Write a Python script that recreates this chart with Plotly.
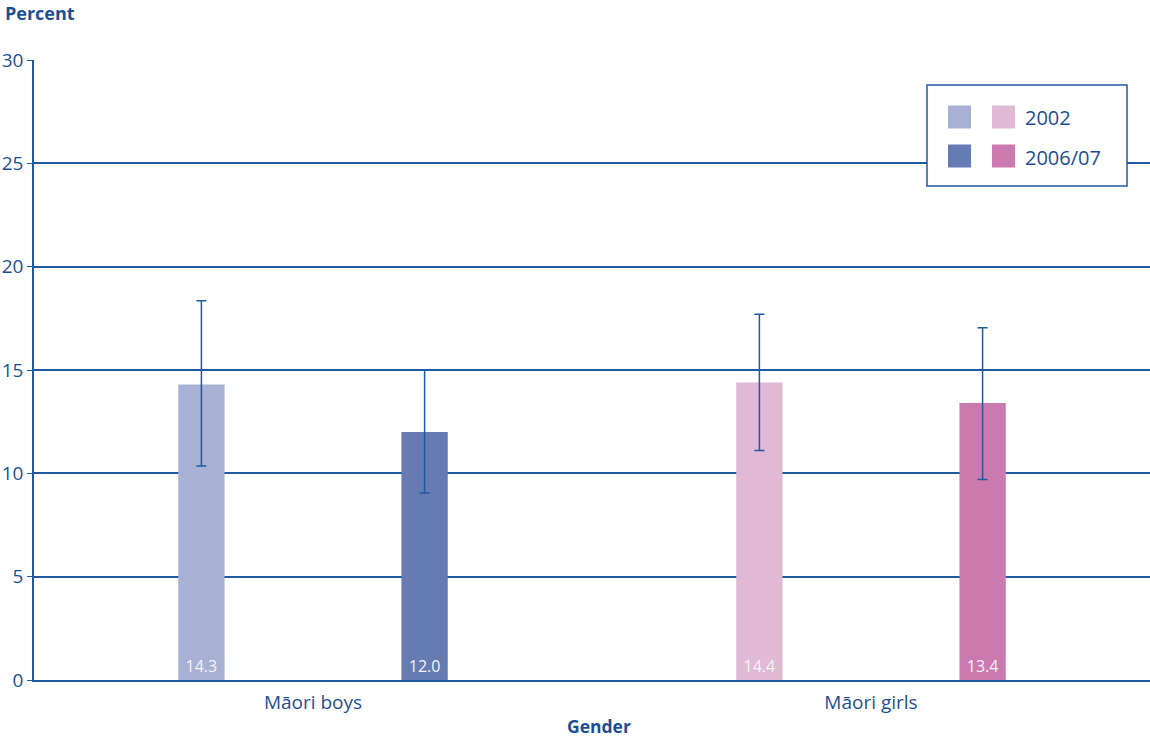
import plotly.graph_objects as go

# Data
groups = ["Māori boys", "Māori girls"]
periods = ["2002", "2006/07"]
values = {
    "Māori boys": [14.3, 12.0],
    "Māori girls": [14.4, 13.4],
}
ci_low = {
    "Māori boys": [10.35, 9.05],
    "Māori girls": [11.1, 9.7],
}
ci_high = {
    "Māori boys": [18.35, 15.0],
    "Māori girls": [17.7, 17.05],
}
bar_colours = {
    "Māori boys": ["#a8b0d4", "#667bb2"],
    "Māori girls": ["#e0b9d4", "#cb7aaf"],
}

BLUE = "#1c5096"
AXIS = "#1f5aa0"
FONT = "Open Sans, Noto Sans, sans-serif"

offsets = [-0.2, 0.2]
bar_width = 0.083

fig = go.Figure()
for gi, g in enumerate(groups):
    for pi, p in enumerate(periods):
        v = values[g][pi]
        fig.add_trace(go.Bar(
            x=[gi + offsets[pi]],
            y=[v],
            width=bar_width,
            marker=dict(color=bar_colours[g][pi], line=dict(width=0)),
            text=[f"{v:.1f}"],
            textposition="inside",
            insidetextanchor="start",
            textangle=0,
            textfont=dict(color="#f4f4f8", size=16, family=FONT),
            error_y=dict(
                type="data",
                symmetric=False,
                array=[ci_high[g][pi] - v],
                arrayminus=[v - ci_low[g][pi]],
                color=AXIS,
                thickness=1.5,
                width=5,
            ),
            showlegend=False,
            hoverinfo="skip",
        ))

fig.update_layout(
    width=1150,
    height=738,
    margin=dict(l=34, r=0, t=60, b=58),
    plot_bgcolor="white",
    paper_bgcolor="white",
    font=dict(family=FONT, color=BLUE, size=19),
    barmode="overlay",
    xaxis=dict(
        range=[-0.5, 1.5],
        tickvals=[0, 1],
        ticktext=groups,
        showgrid=False,
        showline=True,
        linecolor=AXIS,
        linewidth=1.5,
        ticks="",
        zeroline=False,
        tickfont=dict(size=19, color=BLUE),
        ticklabelstandoff=4,
        fixedrange=True,
    ),
    yaxis=dict(
        range=[0, 30],
        tickvals=[0, 5, 10, 15, 20, 25, 30],
        showgrid=True,
        gridcolor=AXIS,
        gridwidth=1.5,
        showline=True,
        linecolor=AXIS,
        linewidth=1.5,
        ticks="outside",
        ticklen=5,
        tickcolor=AXIS,
        zeroline=False,
        tickfont=dict(size=19, color=BLUE),
        fixedrange=True,
    ),
)

plot_w, plot_h, left, top = 1116, 620, 34, 60


def px(x):
    return (x - left) / plot_w


def py(y):
    return 1 - (y - top) / plot_h


# Axis titles
fig.add_annotation(
    text="<b>Percent</b>", xref="paper", yref="paper",
    x=px(3), y=py(13), xanchor="left", yanchor="middle",
    showarrow=False, font=dict(size=18, color=BLUE, family=FONT),
)
fig.add_annotation(
    text="<b>Gender</b>", xref="paper", yref="paper",
    x=px(599), y=py(726), xanchor="center", yanchor="middle",
    showarrow=False, font=dict(size=17.5, color=BLUE, family=FONT),
)

# Legend box: one swatch per group in each row
box = dict(x0=927, x1=1127, y0=85, y1=186)
fig.add_shape(type="rect", xref="paper", yref="paper",
              x0=px(box["x0"]), x1=px(box["x1"]), y0=py(box["y1"]), y1=py(box["y0"]),
              line=dict(color=AXIS, width=1.5), fillcolor="white", layer="above")

row_centres = [117, 156]
col_lefts = [948, 992]
sw = 23
for pi, p in enumerate(periods):
    yc = row_centres[pi]
    for gi, g in enumerate(groups):
        x0 = col_lefts[gi]
        fig.add_shape(type="rect", xref="paper", yref="paper",
                      x0=px(x0), x1=px(x0 + sw), y0=py(yc + sw / 2), y1=py(yc - sw / 2),
                      line=dict(width=0), fillcolor=bar_colours[g][pi], layer="above")
    fig.add_annotation(text=p, xref="paper", yref="paper", x=px(1023), y=py(yc + 1),
                       xanchor="left", yanchor="middle", showarrow=False,
                       font=dict(size=20, color=BLUE, family=FONT))

fig.write_html("out.html")
